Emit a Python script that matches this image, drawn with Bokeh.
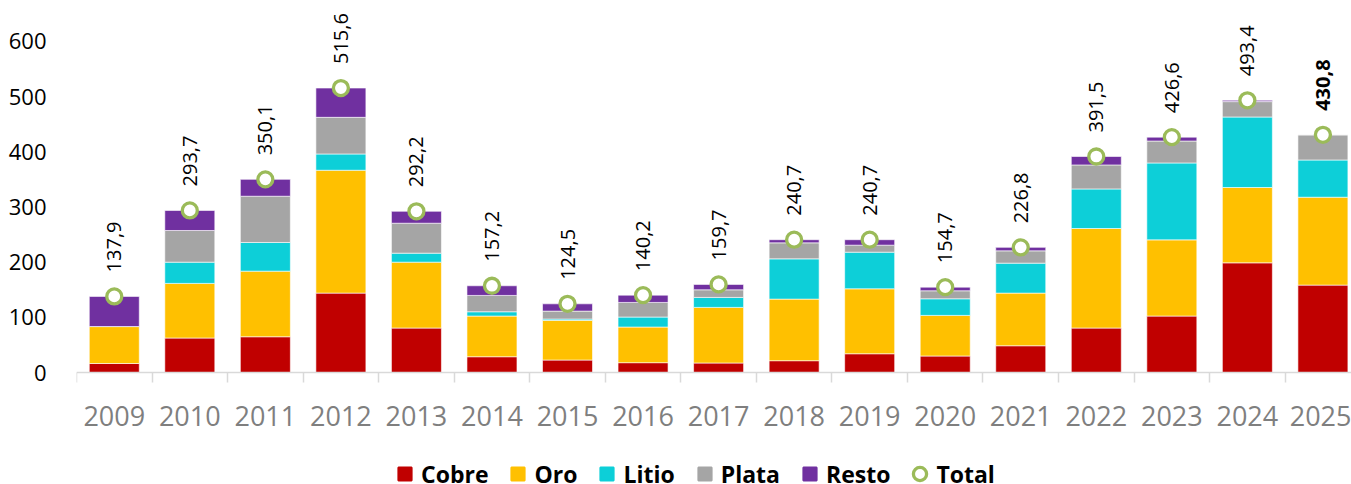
import math
from bokeh.plotting import figure
from bokeh.models import (ColumnDataSource, FixedTicker, Range1d, Legend, LegendItem)
from bokeh.core.properties import value
from bokeh.embed import file_html
from bokeh.resources import INLINE

years = ["2009", "2010", "2011", "2012", "2013", "2014", "2015", "2016", "2017",
         "2018", "2019", "2020", "2021", "2022", "2023", "2024", "2025"]
cobre = [16.3, 62.5, 64.8, 143.9, 80.6, 28.6, 22.6, 17.8, 17.2, 21.4, 34.0, 29.9, 48.5, 80.6, 102.3, 198.8, 158.4]
oro = [67.0, 99.0, 118.9, 222.7, 119.4, 73.7, 71.9, 64.6, 100.8, 111.6, 117.7, 73.6, 95.4, 180.4, 138.1, 136.5, 159.3]
litio = [0.0, 38.5, 52.0, 29.5, 16.3, 7.8, 2.4, 18.1, 18.1, 73.0, 66.4, 30.1, 54.3, 71.7, 139.4, 127.8, 67.5]
plata = [0.0, 57.4, 83.8, 66.4, 54.3, 29.6, 14.4, 26.5, 13.8, 29.0, 12.7, 14.5, 22.3, 43.5, 39.8, 27.9, 45.6]
resto = [54.6, 36.3, 30.6, 53.1, 21.6, 17.5, 13.2, 13.2, 9.8, 5.7, 9.9, 6.6, 6.3, 15.3, 7.0, 2.4, 0.0]
total = [137.9, 293.7, 350.1, 515.6, 292.2, 157.2, 124.5, 140.2, 159.7, 240.7, 240.7, 154.7, 226.8, 391.5, 426.6, 493.4, 430.8]
y_ticks = [0, 100, 200, 300, 400, 500, 600]

series = ["Cobre", "Oro", "Litio", "Plata", "Resto"]
colors = ["#C00000", "#FFC000", "#0DCFD8", "#A5A5A5", "#7030A0"]
green = "#9BBB59"

xs = list(range(len(years)))
labels = [f"{v:.1f}".replace(".", ",") for v in total]

src = ColumnDataSource(dict(x=xs, Cobre=cobre, Oro=oro, Litio=litio, Plata=plata,
                            Resto=resto, total=total, label=labels))
src_norm = ColumnDataSource(dict(x=xs[:-1], total=total[:-1], label=labels[:-1]))
src_bold = ColumnDataSource(dict(x=xs[-1:], total=total[-1:], label=labels[-1:]))

W, H = 1351, 484
left = 76
zero_px = 372          # screen row of the value 0
px_per_unit = 0.5517
spacing_px = 75.54
x_start = -0.5
x_end = x_start + (W - left) / spacing_px
y_start = -(H - zero_px) / px_per_unit
y_end = zero_px / px_per_unit

p = figure(width=W, height=H, output_backend="svg", toolbar_location=None,
           x_range=Range1d(x_start, x_end), y_range=Range1d(y_start, y_end),
           min_border_left=left, min_border_right=0, min_border_top=0,
           min_border_bottom=0)
p.outline_line_color = None
p.xgrid.visible = False
p.ygrid.visible = False
p.background_fill_color = "white"
p.border_fill_color = "white"

rs = p.vbar_stack(series, x="x", width=0.662, color=colors, source=src,
                  line_color="white", line_width=0.6)

# legend swatches: zero-size markers (only their legend glyph shows)
swatches = [p.scatter("x", "total", source=src, marker="square", size=0,
                      fill_color=c, line_color=c, line_width=2) for c in colors]

circ = p.scatter("x", "total", source=src, size=15, marker="circle",
                 fill_color="white", line_color=green, line_width=3.3)

p.text("x", "total", text="label", source=src_norm, angle=math.pi / 2,
       text_align="left", text_baseline="middle", y_offset=-24,
       text_font=value("Open Sans"), text_font_size="20px", text_color="#000000")
p.text("x", "total", text="label", source=src_bold, angle=math.pi / 2,
       text_align="left", text_baseline="middle", y_offset=-24,
       text_font=value("Open Sans"), text_font_size="20px", text_color="#000000",
       text_font_style="bold")

# x axis, pinned at value 0
xa = p.xaxis[0]
xa.fixed_location = 0
xa.ticker = FixedTicker(ticks=xs, minor_ticks=[i - 0.5 for i in range(len(years) + 1)])
xa.major_label_overrides = {i: y for i, y in zip(xs, years)}
xa.major_tick_line_color = None
xa.minor_tick_in = 0
xa.minor_tick_out = 10
xa.minor_tick_line_color = "#D9D9D9"
xa.minor_tick_line_width = 1.5
xa.axis_line_color = "#D9D9D9"
xa.axis_line_width = 1.5
xa.major_label_text_font = "Open Sans"
xa.major_label_text_font_size = "27px"
xa.major_label_text_color = "#7F7F7F"
xa.major_label_standoff = 23

# y axis
ya = p.yaxis[0]
ya.ticker = FixedTicker(ticks=y_ticks)
ya.axis_line_color = None
ya.major_tick_line_color = None
ya.minor_tick_line_color = None
ya.major_label_text_font = "Open Sans"
ya.major_label_text_font_size = "22px"
ya.major_label_text_color = "#000000"
ya.major_label_standoff = 24

items = [LegendItem(label=s, renderers=[r]) for s, r in zip(series, swatches)]
items.append(LegendItem(label="Total", renderers=[circ]))

leg = Legend(items=items, orientation="horizontal", location=(312, -6),
             glyph_width=33, glyph_height=33, label_standoff=-3, spacing=13,
             padding=0, margin=0, border_line_color=None, background_fill_alpha=0,
             label_text_font="Open Sans", label_text_font_style="bold",
             label_text_font_size="23px", label_text_color="#000000")
p.add_layout(leg, "center")

open("out.html", "w").write(file_html(p, INLINE))
